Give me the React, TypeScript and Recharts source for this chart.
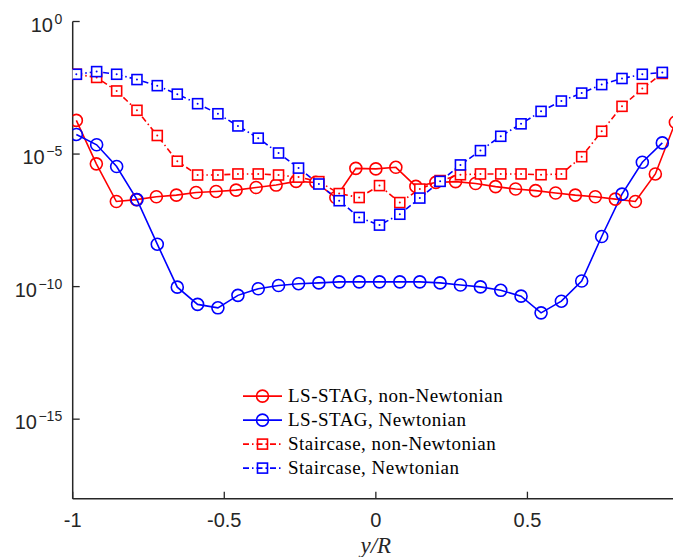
import React from 'react';
import { LineChart, Line, XAxis, YAxis, Legend } from 'recharts';

// x positions (y/R) of the LS-STAG non-Newtonian points
const xLsStagNonNewtonian = [
  -0.988, -0.922, -0.856, -0.79, -0.724, -0.658, -0.593, -0.527, -0.461, -0.395, -0.329,
  -0.263, -0.198, -0.132, -0.066, 0.0, 0.066, 0.132, 0.198, 0.263, 0.329, 0.395, 0.461,
  0.527, 0.593, 0.658, 0.724, 0.79, 0.856, 0.922, 0.988,
];
// x positions (y/R) of the other three series
const xGrid = [
  -0.988, -0.921, -0.855, -0.788, -0.721, -0.655, -0.588, -0.521, -0.455, -0.388, -0.321,
  -0.255, -0.188, -0.121, -0.055, 0.012, 0.079, 0.145, 0.212, 0.279, 0.345, 0.412, 0.479,
  0.545, 0.612, 0.679, 0.745, 0.812, 0.879, 0.945,
];

// values, given as decimal exponents (value = 10^e)
const lsStagNonNewtonian = [
  -3.73, -5.37, -6.79, -6.72, -6.61, -6.55, -6.45, -6.41, -6.36, -6.26, -6.17, -6.03, -6.07,
  -6.64, -5.54, -5.56, -5.5, -6.22, -6.07, -6.04, -6.11, -6.23, -6.32, -6.38, -6.47, -6.55,
  -6.61, -6.7, -6.79, -5.75, -3.8,
];
const lsStagNewtonian = [
  -4.26, -4.65, -5.47, -6.72, -8.4, -10.02, -10.67, -10.8, -10.33, -10.08, -9.96, -9.89,
  -9.86, -9.82, -9.82, -9.82, -9.82, -9.82, -9.86, -9.94, -10.01, -10.14, -10.36, -10.99,
  -10.55, -9.79, -8.11, -6.51, -5.31, -4.58,
];
const staircaseNonNewtonian = [
  -1.99, -2.11, -2.62, -3.35, -4.3, -5.27, -5.79, -5.79, -5.75, -5.75, -5.79, -5.87, -6.04,
  -6.49, -6.64, -6.19, -6.83, -6.32, -6.0, -5.78, -5.75, -5.75, -5.75, -5.78, -5.75, -5.1,
  -4.14, -3.2, -2.53, -1.96,
];
const staircaseNewtonian = [
  -1.99, -1.89, -1.99, -2.19, -2.42, -2.74, -3.1, -3.48, -3.94, -4.4, -4.96, -5.53, -6.13,
  -6.76, -7.39, -7.68, -7.27, -6.66, -6.03, -5.41, -4.87, -4.33, -3.86, -3.39, -3.0, -2.7,
  -2.38, -2.15, -1.99, -1.92,
];

// the tick at 1 lies past the right edge of the picture, as in the reference
const xTicks = [-1, -0.5, 0, 0.5];
const yTickExponents = [-15, -10, -5, 0];
const yDomainExponents = [-18, 0];

const RED = '#ff0000';
const BLUE = '#0000ff';
const AXIS = '#262626';
const SANS = '"Liberation Sans", Arial, Helvetica, sans-serif';
const SERIF = '"Liberation Serif", "Times New Roman", serif';
const DASHDOT = '6 3 1.5 3';

const rows = (xs: number[], exps: number[]) => xs.map((x, i) => ({ x, y: Math.pow(10, exps[i]) }));

const dataRC = rows(xLsStagNonNewtonian, lsStagNonNewtonian);
const dataBC = rows(xGrid, lsStagNewtonian);
const dataRS = rows(xGrid, staircaseNonNewtonian);
const dataBS = rows(xGrid, staircaseNewtonian);
const yTicks = yTickExponents.map((e) => Math.pow(10, e));
const yDomain = yDomainExponents.map((e) => Math.pow(10, e));

const circleDot = (color: string) => (props: any) => {
  const { cx, cy, index } = props;
  if (cx == null || cy == null) return <g key={index} />;
  return <circle key={index} cx={cx} cy={cy} r={6} fill="none" stroke={color} strokeWidth={1.6} />;
};
const squareDot = (color: string) => (props: any) => {
  const { cx, cy, index } = props;
  if (cx == null || cy == null) return <g key={index} />;
  return (
    <g key={index}>
      <rect x={cx - 5} y={cy - 5} width={10} height={10} fill="#fff" stroke={color} strokeWidth={1.6} />
      <circle cx={cx} cy={cy} r={1} fill={color} />
    </g>
  );
};

const LeftTick = (props: any) => {
  const { x, y, payload } = props;
  const e = Math.round(Math.log10(payload.value));
  const sup = e < 0 ? '\u2212' + Math.abs(e) : String(e);
  return (
    <g>
      <line x1={x} y1={y} x2={x + 7} y2={y} stroke={AXIS} strokeWidth={1.3} />
      <text x={x - 10.5} y={y + 10} textAnchor="end" fontFamily={SANS} fontSize={20} fill={AXIS}>
        <tspan>10</tspan>
        <tspan dx={1.5} dy={-8} fontSize={14}>{sup}</tspan>
      </text>
    </g>
  );
};
const RightTick = (props: any) => {
  const { x, y } = props;
  return <line x1={x} y1={y} x2={x - 7} y2={y} stroke={AXIS} strokeWidth={1.3} />;
};
const BottomTick = (props: any) => {
  const { x, y, payload } = props;
  return (
    <g>
      <line x1={x} y1={y} x2={x} y2={y - 7} stroke={AXIS} strokeWidth={1.3} />
      <text x={x} y={y + 28} textAnchor="middle" fontFamily={SANS} fontSize={20} fill={AXIS}>
        {String(payload.value)}
      </text>
    </g>
  );
};
const TopTick = (props: any) => {
  const { x, y } = props;
  return <line x1={x} y1={y} x2={x} y2={y + 7} stroke={AXIS} strokeWidth={1.3} />;
};

const legendItems = [
  { name: 'LS-STAG, non-Newtonian', color: RED, marker: 'circle', dash: undefined as string | undefined },
  { name: 'LS-STAG, Newtonian', color: BLUE, marker: 'circle', dash: undefined as string | undefined },
  { name: 'Staircase, non-Newtonian', color: RED, marker: 'square', dash: DASHDOT },
  { name: 'Staircase, Newtonian', color: BLUE, marker: 'square', dash: DASHDOT },
];

const LegendContent = () => (
  <div style={{ fontFamily: SERIF, fontSize: 19, color: '#000', letterSpacing: 0.5 }}>
    {legendItems.map((it) => (
      <div key={it.name} style={{ display: 'flex', alignItems: 'center', height: 24.2, whiteSpace: 'nowrap' }}>
        <svg width={45} height={24.2} style={{ display: 'block', flex: 'none' }}>
          <line x1={0} x2={39} y1={12.1} y2={12.1} stroke={it.color} strokeWidth={1.6} strokeDasharray={it.dash} />
          {it.marker === 'circle' ? (
            <circle cx={19.5} cy={12.1} r={6} fill="none" stroke={it.color} strokeWidth={1.6} />
          ) : (
            <rect x={14.5} y={7.1} width={10} height={10} fill="none" stroke={it.color} strokeWidth={1.6} />
          )}
        </svg>
        <span style={{ lineHeight: '24.2px' }}>{it.name}</span>
      </div>
    ))}
  </div>
);

export default function App() {
  return (
    <div style={{ position: 'absolute', left: 8, top: 8, width: 665, height: 549, overflow: 'hidden' }}>
      <LineChart width={682} height={549} margin={{ top: 13.5, right: 11, bottom: 2.3, left: 0 }}>
        <XAxis
          dataKey="x"
          type="number"
          domain={[-1, 1]}
          allowDataOverflow
          ticks={xTicks}
          interval={0}
          tickSize={0}
          tickMargin={0}
          tickLine={false}
          tick={BottomTick}
          height={56}
          axisLine={{ stroke: AXIS, strokeWidth: 1.5 }}
          label={{
            value: 'y/R',
            position: 'insideBottom',
            offset: 1.5,
            fontFamily: SERIF,
            fontStyle: 'italic',
            fontSize: 23,
            fill: AXIS,
          }}
        />
        <XAxis
          xAxisId="top"
          orientation="top"
          dataKey="x"
          type="number"
          domain={[-1, 1]}
          allowDataOverflow
          ticks={xTicks}
          interval={0}
          tickSize={0}
          tickMargin={0}
          tickLine={false}
          tick={TopTick}
          height={0}
          axisLine={{ stroke: AXIS, strokeWidth: 1.5 }}
        />
        <YAxis
          yAxisId="left"
          type="number"
          scale="log"
          domain={yDomain}
          allowDataOverflow
          ticks={yTicks}
          interval={0}
          tickSize={0}
          tickMargin={0}
          tickLine={false}
          tick={LeftTick}
          width={64.7}
          axisLine={{ stroke: AXIS, strokeWidth: 1.5 }}
        />
        <YAxis
          yAxisId="right"
          orientation="right"
          type="number"
          scale="log"
          domain={yDomain}
          allowDataOverflow
          ticks={yTicks}
          interval={0}
          tickSize={0}
          tickMargin={0}
          tickLine={false}
          tick={RightTick}
          width={0}
          axisLine={{ stroke: AXIS, strokeWidth: 1.5 }}
        />
        <Legend
          layout="vertical"
          align="center"
          verticalAlign="middle"
          wrapperStyle={{ left: 235, top: 375.9, width: 'auto', height: 'auto' }}
          content={() => <LegendContent />}
        />
        <Line
          yAxisId="left"
          data={dataRC}
          dataKey="y"
          name="LS-STAG, non-Newtonian"
          type="linear"
          stroke={RED}
          strokeWidth={1.6}
          dot={circleDot(RED)}
          activeDot={false}
          isAnimationActive={false}
        />
        <Line
          yAxisId="left"
          data={dataBC}
          dataKey="y"
          name="LS-STAG, Newtonian"
          type="linear"
          stroke={BLUE}
          strokeWidth={1.6}
          dot={circleDot(BLUE)}
          activeDot={false}
          isAnimationActive={false}
        />
        <Line
          yAxisId="left"
          data={dataRS}
          dataKey="y"
          name="Staircase, non-Newtonian"
          type="linear"
          stroke={RED}
          strokeWidth={1.6}
          strokeDasharray={DASHDOT}
          dot={squareDot(RED)}
          activeDot={false}
          isAnimationActive={false}
        />
        <Line
          yAxisId="left"
          data={dataBS}
          dataKey="y"
          name="Staircase, Newtonian"
          type="linear"
          stroke={BLUE}
          strokeWidth={1.6}
          strokeDasharray={DASHDOT}
          dot={squareDot(BLUE)}
          activeDot={false}
          isAnimationActive={false}
        />
      </LineChart>
    </div>
  );
}
